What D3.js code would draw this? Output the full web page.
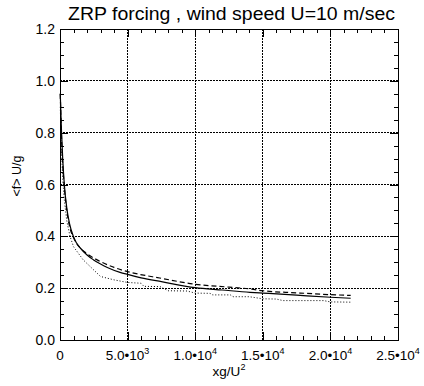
<!DOCTYPE html>
<html><head><meta charset="utf-8">
<script src="https://cdn.jsdelivr.net/npm/d3@7"></script>
<style>body{margin:0;background:#fff}svg{display:block;font-family:"Liberation Sans",Arial,sans-serif}</style>
</head><body><svg id="c" width="424" height="386"></svg>
<script>
const title = "ZRP forcing , wind speed U=10 m/sec";
const xTicks = [0, 5000, 10000, 15000, 20000, 25000];
const xTickMant = ["0", "5.0", "1.0", "1.5", "2.0", "2.5"];
const xTickExp = [null, "3", "4", "4", "4", "4"];
const yTicks = [0, 0.2, 0.4, 0.6, 0.8, 1.0, 1.2];
const yTickLabels = ["0.0", "0.2", "0.4", "0.6", "0.8", "1.0", "1.2"];

const solidX = [20, 100, 200, 320, 500, 700, 985, 1200, 1500, 2000, 2460, 3000, 3500, 4440, 5000, 6000, 7500, 10000, 12000, 14050, 15000, 17500, 20000, 21500];
const solidY = [0.95, 0.82, 0.70, 0.60, 0.51, 0.45, 0.40, 0.376, 0.355, 0.328, 0.31, 0.293, 0.28, 0.261, 0.253, 0.24, 0.225, 0.202, 0.193, 0.184, 0.181, 0.173, 0.165, 0.161];
const dashedX = [20, 100, 200, 320, 500, 700, 1000, 1200, 1500, 2000, 2900, 4000, 4690, 5050, 7500, 10000, 12500, 14050, 15000, 17500, 20000, 21500];
const dashedY = [0.95, 0.80, 0.68, 0.59, 0.50, 0.44, 0.395, 0.375, 0.355, 0.333, 0.305, 0.28, 0.268, 0.263, 0.238, 0.215, 0.204, 0.197, 0.19, 0.182, 0.175, 0.172];
const dottedX = [20, 100, 200, 320, 500, 740, 1000, 1720, 2500, 3000, 4000, 5000, 6000, 6200, 7400, 8000, 9400, 10000, 11100, 11300, 12600, 12800, 14000, 15000, 16000, 16500, 19500, 20000, 21500];
const dottedY = [0.90, 0.75, 0.62, 0.54, 0.46, 0.40, 0.36, 0.309, 0.27, 0.245, 0.232, 0.222, 0.219, 0.207, 0.206, 0.19, 0.189, 0.181, 0.180, 0.174, 0.174, 0.167, 0.167, 0.159, 0.158, 0.152, 0.152, 0.147, 0.146];

const svg = d3.select("#c");
const L = 60, R = 398, T = 29, B = 340;
const x = d3.scaleLinear().domain([0, 25000]).range([L, R]);
const y = d3.scaleLinear().domain([0, 1.2]).range([B, T]);

// grid
const g = svg.append("g");
xTicks.slice(1, -1).forEach(v => g.append("line").attr("x1", x(v)).attr("x2", x(v)).attr("y1", T).attr("y2", B)
  .attr("stroke", "#000").attr("stroke-width", 1).attr("stroke-dasharray", "1.5,1.5").attr("shape-rendering", "crispEdges"));
yTicks.slice(1, -1).forEach(v => g.append("line").attr("y1", y(v)).attr("y2", y(v)).attr("x1", L).attr("x2", R)
  .attr("stroke", "#000").attr("stroke-width", 1).attr("stroke-dasharray", "1.5,1.5").attr("shape-rendering", "crispEdges"));

// axes with inward ticks
const xMinor = d3.range(0, 25001, 1000).filter(v => v % 5000 !== 0);
const yMinor = d3.range(0, 25).map(i => i * 0.05).filter((v, i) => i % 4 !== 0);
function addAxis(axis, tr) { const a = svg.append("g").attr("transform", tr).call(axis); a.selectAll("text").remove(); a.select(".domain").remove(); a.selectAll("line").attr("shape-rendering", "crispEdges"); return a; }
addAxis(d3.axisBottom(x).tickValues(xTicks).tickSize(-8), `translate(0,${B})`);
addAxis(d3.axisBottom(x).tickValues(xMinor).tickSize(-4), `translate(0,${B})`);
addAxis(d3.axisTop(x).tickValues(xTicks).tickSize(-8), `translate(0,${T})`);
addAxis(d3.axisTop(x).tickValues(xMinor).tickSize(-4), `translate(0,${T})`);
addAxis(d3.axisLeft(y).tickValues(yTicks).tickSize(-8), `translate(${L},0)`);
addAxis(d3.axisLeft(y).tickValues(yMinor).tickSize(-4), `translate(${L},0)`);
addAxis(d3.axisRight(y).tickValues(yTicks).tickSize(-8), `translate(${R},0)`);
addAxis(d3.axisRight(y).tickValues(yMinor).tickSize(-4), `translate(${R},0)`);
svg.append("rect").attr("x", L).attr("y", T).attr("width", R - L).attr("height", B - T)
  .attr("fill", "none").attr("stroke", "#000").attr("stroke-width", 1).attr("shape-rendering", "crispEdges");

// tick labels
yTicks.forEach((v, i) => svg.append("text").attr("x", L - 5).attr("y", y(v) + 5).attr("text-anchor", "end")
  .attr("font-size", 14).text(yTickLabels[i]));
xTicks.forEach((v, i) => {
  const t = svg.append("text").attr("x", x(v)).attr("y", 360).attr("text-anchor", "middle").attr("font-size", 13.5);
  if (xTickExp[i] === null) { t.text(xTickMant[i]); }
  else {
    t.append("tspan").text(xTickMant[i] + "\u202210");
    t.append("tspan").attr("font-size", 9).attr("dy", -6).text(xTickExp[i]);
  }
});

// curves
const line = d3.line().x(d => x(d[0])).y(d => y(d[1])).curve(d3.curveMonotoneX);
const lineL = d3.line().x(d => x(d[0])).y(d => y(d[1]));
svg.append("path").attr("d", line(d3.zip(solidX, solidY))).attr("fill", "none").attr("stroke", "#000").attr("stroke-width", 1.2);
svg.append("path").attr("d", line(d3.zip(dashedX, dashedY))).attr("fill", "none").attr("stroke", "#000").attr("stroke-width", 1.2).attr("stroke-dasharray", "5,3");
svg.append("path").attr("d", lineL(d3.zip(dottedX, dottedY))).attr("fill", "none").attr("stroke", "#000").attr("stroke-width", 1).attr("stroke-dasharray", "1,2");

// titles
svg.append("text").attr("x", 231.5).attr("y", 20).attr("text-anchor", "middle").attr("font-size", 17.5)
  .attr("textLength", 327).attr("lengthAdjust", "spacingAndGlyphs").text(title);
const xl = svg.append("text").attr("x", 229).attr("y", 376).attr("text-anchor", "middle").attr("font-size", 13.5);
xl.append("tspan").text("xg/U");
xl.append("tspan").attr("font-size", 9).attr("dy", -6).text("2");
svg.append("text").attr("transform", `translate(21,176) rotate(-90)`).attr("text-anchor", "middle")
  .attr("font-size", 12.5).text("<f> U/g");
</script></body></html>
